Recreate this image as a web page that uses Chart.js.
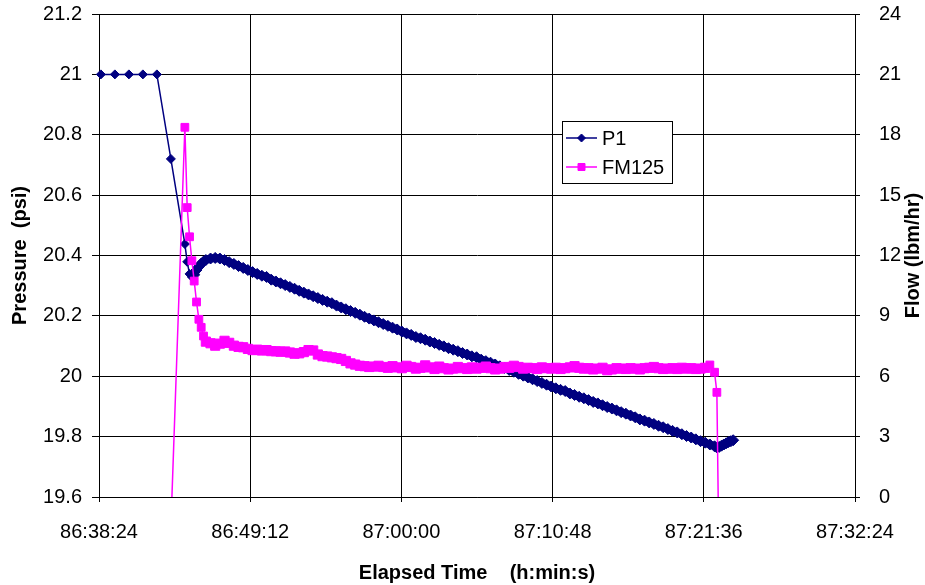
<!DOCTYPE html>
<html>
<head>
<meta charset="utf-8">
<title>P1 / FM125</title>
<script src="https://cdn.jsdelivr.net/npm/chart.js@4/dist/chart.umd.min.js"></script>
<style>
  html, body { margin: 0; padding: 0; background: #fff; }
  canvas { display: block; }
</style>
</head>
<body>
<canvas id="pressureChart" width="925" height="585"></canvas>
<script>
// time axis labels (h:min:s of elapsed time)
const xTickLabels = ['86:38:24', '86:49:12', '87:00:00', '87:10:48', '87:21:36', '87:32:24'];

// sample times, seconds after 86:38:24
const elapsedSec = [
  8, 68, 128, 188, 248, 308, 368, 378, 388, 398, 408, 418, 428, 438, 448,
  458, 478, 498, 518, 538, 558, 578, 598, 618, 638,
  658, 678, 698, 718, 738, 758, 778, 798, 818, 838,
  858, 878, 898, 918, 938, 958, 978, 998, 1018, 1038,
  1058, 1078, 1098, 1118, 1138, 1158, 1178, 1198, 1218, 1238,
  1258, 1278, 1298, 1318, 1338, 1358, 1378, 1398, 1418, 1438,
  1458, 1478, 1498, 1518, 1538, 1558, 1578, 1598, 1618, 1638,
  1658, 1678, 1698, 1718, 1738, 1758, 1778, 1798, 1818, 1838,
  1858, 1878, 1898, 1918, 1938, 1958, 1978, 1998, 2018, 2038,
  2058, 2078, 2098, 2118, 2138, 2158, 2178, 2198, 2218, 2238,
  2258, 2278, 2298, 2318, 2338, 2358, 2378, 2398, 2418, 2438,
  2458, 2478, 2498, 2518, 2538, 2558, 2578, 2598, 2618, 2638,
  2648, 2658, 2668, 2678, 2688, 2698, 2708, 2718
];

// P1 pressure, psi
const p1 = [
  21, 21, 21, 21, 21, 20.72, 20.438, 20.379, 20.339, 20.329, 20.336, 20.352, 20.363, 20.373, 20.380,
  20.385, 20.390, 20.392, 20.390, 20.385, 20.378, 20.372, 20.365, 20.359, 20.352,
  20.345, 20.339, 20.333, 20.329, 20.320, 20.314, 20.308, 20.302, 20.296, 20.290,
  20.283, 20.277, 20.271, 20.265, 20.259, 20.253, 20.247, 20.242, 20.234, 20.228,
  20.222, 20.216, 20.210, 20.204, 20.197, 20.191, 20.185, 20.179, 20.173, 20.167,
  20.161, 20.155, 20.148, 20.142, 20.137, 20.130, 20.126, 20.121, 20.115, 20.110,
  20.104, 20.099, 20.093, 20.088, 20.083, 20.077, 20.072, 20.066, 20.063, 20.055,
  20.050, 20.045, 20.039, 20.033, 20.027, 20.021, 20.015, 20.008, 20.002, 19.996,
  19.990, 19.984, 19.978, 19.972, 19.966, 19.960, 19.955, 19.951, 19.943, 19.938,
  19.932, 19.927, 19.921, 19.915, 19.910, 19.904, 19.898, 19.893, 19.887, 19.881,
  19.876, 19.870, 19.864, 19.857, 19.853, 19.847, 19.842, 19.836, 19.831, 19.825,
  19.819, 19.814, 19.808, 19.802, 19.797, 19.791, 19.785, 19.780, 19.774, 19.768,
  19.764, 19.766, 19.770, 19.774, 19.778, 19.782, 19.785, 19.788
];

// FM125 flow, lbm/hr
const fm125 = [
  null, null, null, null, null, -1.5, 18.37, 14.38, 12.93, 11.74, 10.73, 9.69, 8.83, 8.43, 8.0,
  7.72, 7.64, 7.52, 7.62, 7.76, 7.66, 7.52, 7.46, 7.44, 7.36,
  7.30, 7.32, 7.28, 7.30, 7.25, 7.24, 7.22, 7.23, 7.18, 7.12,
  7.14, 7.20, 7.30, 7.28, 7.08, 7.00, 6.98, 6.94, 6.90, 6.86,
  6.76, 6.64, 6.58, 6.52, 6.50, 6.46, 6.48, 6.52, 6.46, 6.42,
  6.50, 6.44, 6.40, 6.52, 6.46, 6.38, 6.42, 6.54, 6.44, 6.36,
  6.48, 6.40, 6.34, 6.38, 6.46, 6.40, 6.36, 6.44, 6.38, 6.42,
  6.48, 6.40, 6.34, 6.38, 6.46, 6.42, 6.52, 6.46, 6.38, 6.42,
  6.40, 6.36, 6.44, 6.40, 6.38, 6.42, 6.36, 6.40, 6.44, 6.50,
  6.42, 6.38, 6.40, 6.34, 6.38, 6.42, 6.30, 6.34, 6.40, 6.38,
  6.36, 6.40, 6.38, 6.34, 6.40, 6.42, 6.46, 6.40, 6.36, 6.38,
  6.40, 6.36, 6.42, 6.38, 6.40, 6.36, 6.38, 6.42, 6.56, 6.20,
  5.20, -4, null, null, null, null, null, null
];

const FONT = "'Liberation Sans', Arial, sans-serif";

function toSeconds(label) {
  const p = label.split(':').map(Number);
  return p[0] * 3600 + p[1] * 60 + p[2];
}
function toClock(sec) {
  const h = Math.floor(sec / 3600);
  const m = Math.floor((sec % 3600) / 60);
  const s = Math.round(sec % 60);
  return h + ':' + String(m).padStart(2, '0') + ':' + String(s).padStart(2, '0');
}

const xTicks = xTickLabels.map(toSeconds);
const t0 = xTicks[0];

function points(values) {
  return elapsedSec.map((t, i) => ({ x: t0 + t, y: values[i] }));
}

// the logger samples densely after the step; the markers there merge into a thick band
const p1Dense = 9;
const fmDense = [15, 123];
function p1Width(c) { return c.p0DataIndex >= p1Dense ? 8 : 1.5; }
function fmWidth(c) { return c.p0DataIndex >= fmDense[0] && c.p1DataIndex <= fmDense[1] ? 7 : 1.5; }
function p1Radius(c) { return c.dataIndex >= p1Dense + 1 ? 5.5 : 4.5; }
function fmRadius(c) { return c.dataIndex >= fmDense[0] && c.dataIndex < fmDense[1] ? 6.5 : 5.5; }

// boxed legend inside the plot plus the right axis title (reads bottom to top)
const overlay = {
  id: 'overlay',
  afterDraw(chart) {
    const ctx = chart.ctx;
    const area = chart.chartArea;
    ctx.save();

    ctx.fillStyle = '#000';
    ctx.font = 'bold 20px ' + FONT;
    ctx.textAlign = 'center';
    ctx.textBaseline = 'middle';
    ctx.translate(913, (area.top + area.bottom) / 2);
    ctx.rotate(-Math.PI / 2);
    ctx.fillText('Flow (lbm/hr)', 0, 0);
    ctx.setTransform(1, 0, 0, 1, 0, 0);

    const bx = 562, by = 121, bw = 110, bh = 62;
    ctx.fillStyle = '#fff';
    ctx.fillRect(bx, by, bw, bh);
    ctx.strokeStyle = '#000';
    ctx.lineWidth = 1;
    ctx.strokeRect(bx + 0.5, by + 0.5, bw, bh);

    chart.data.datasets.forEach((ds, i) => {
      const y = by + 17 + i * 29;
      ctx.strokeStyle = ds.borderColor;
      ctx.lineWidth = 1.5;
      ctx.beginPath();
      ctx.moveTo(bx + 4, y);
      ctx.lineTo(bx + 35, y);
      ctx.stroke();

      const cx = bx + 19.5;
      ctx.fillStyle = ds.pointBackgroundColor;
      ctx.beginPath();
      if (ds.pointStyle === 'rectRot') {
        const r = 4;
        ctx.moveTo(cx - r, y);
        ctx.lineTo(cx, y - r);
        ctx.lineTo(cx + r, y);
        ctx.lineTo(cx, y + r);
        ctx.closePath();
      } else {
        ctx.rect(cx - 3.5, y - 3.5, 7, 7);
      }
      ctx.fill();
      ctx.lineWidth = 1;
      ctx.stroke();

      ctx.fillStyle = '#000';
      ctx.font = '20px ' + FONT;
      ctx.textAlign = 'left';
      ctx.textBaseline = 'middle';
      ctx.fillText(ds.label, bx + 40, y + 1);
    });
    ctx.restore();
  }
};

// keep tick label overhang from pushing the plot down
function noOverhang(s) {
  s.paddingTop = 0;
  s.paddingBottom = 0;
}

const ctx = document.getElementById('pressureChart').getContext('2d');

const chart = new Chart(ctx, {
  type: 'line',
  data: {
    datasets: [{
      label: 'P1',
      data: points(p1),
      yAxisID: 'y',
      order: 1,
      borderColor: '#000080',
      backgroundColor: '#000080',
      borderWidth: 1.5,
      segment: { borderWidth: p1Width },
      pointStyle: 'rectRot',
      pointRadius: p1Radius,
      pointBackgroundColor: '#000080',
      pointBorderColor: '#000080',
      pointBorderWidth: 1,
      tension: 0,
      clip: false
    }, {
      label: 'FM125',
      data: points(fm125),
      yAxisID: 'y1',
      order: 0,
      borderColor: '#FF00FF',
      backgroundColor: '#FF00FF',
      borderWidth: 1.5,
      segment: { borderWidth: fmWidth },
      pointStyle: 'rect',
      pointRadius: fmRadius,
      pointBackgroundColor: '#FF00FF',
      pointBorderColor: '#FF00FF',
      pointBorderWidth: 1,
      tension: 0,
      spanGaps: false
    }]
  },
  options: {
    responsive: false,
    animation: false,
    layout: { padding: { top: 14, left: 0, right: 0, bottom: 0 } },
    plugins: {
      legend: { display: false },
      tooltip: { enabled: false }
    },
    scales: {
      x: {
        type: 'linear',
        min: xTicks[0],
        max: xTicks[xTicks.length - 1],
        afterBuildTicks: s => { s.ticks = xTicks.map(v => ({ value: v })); },
        afterFit: s => { s.height = 88; },
        ticks: {
          callback: v => toClock(v),
          color: '#000',
          font: { family: FONT, size: 20 },
          padding: 18,
          maxRotation: 0,
          autoSkip: false
        },
        grid: { color: '#000', lineWidth: 1, tickLength: 5 },
        border: { color: '#000', width: 1 },
        title: {
          display: true,
          text: 'Elapsed Time    (h:min:s)',
          color: '#000',
          font: { family: FONT, size: 20, weight: 'bold' },
          padding: { top: 0, bottom: 0 }
        }
      },
      y: {
        position: 'left',
        min: 19.6,
        max: 21.2,
        afterFit: s => { s.width = 99; noOverhang(s); },
        ticks: {
          stepSize: 0.2,
          callback: v => String(+v.toFixed(1)),
          color: '#000',
          font: { family: FONT, size: 20 },
          padding: 10
        },
        grid: { color: '#000', lineWidth: 1, tickLength: 7 },
        border: { color: '#000', width: 1 },
        title: {
          display: true,
          text: 'Pressure  (psi)',
          color: '#000',
          font: { family: FONT, size: 20, weight: 'bold' },
          padding: { top: 8, bottom: 0 }
        }
      },
      y1: {
        position: 'right',
        min: 0,
        max: 24,
        afterFit: s => { s.width = 70; noOverhang(s); },
        ticks: {
          stepSize: 3,
          color: '#000',
          font: { family: FONT, size: 20 },
          padding: 19
        },
        grid: { drawOnChartArea: false, color: '#000', lineWidth: 1, tickLength: 5 },
        border: { color: '#000', width: 1 },
        title: { display: false }
      }
    }
  },
  plugins: [overlay]
});
</script>
</body>
</html>
